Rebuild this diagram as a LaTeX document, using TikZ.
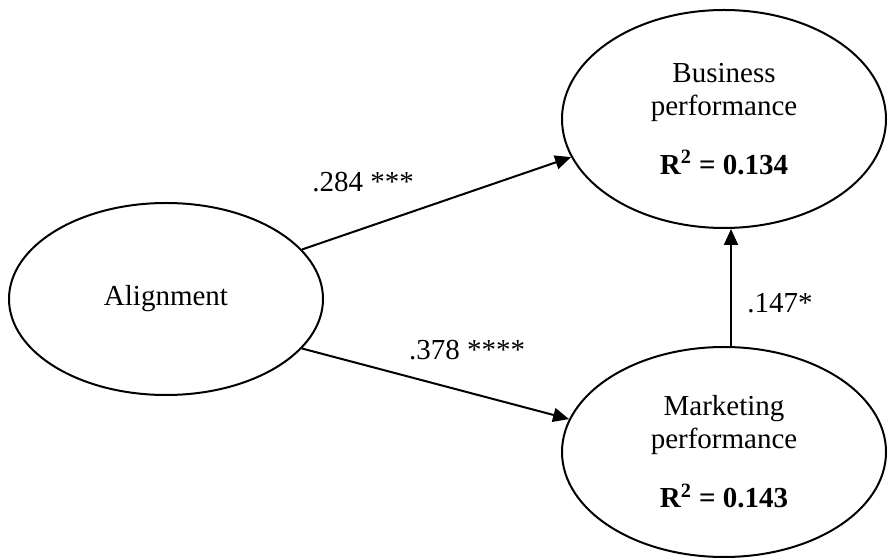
\documentclass[tikz,border=0pt]{standalone}
\usepackage{fontspec}
\setmainfont{Liberation Serif}
\usetikzlibrary{arrows.meta,shapes.geometric}

\begin{document}
\begin{tikzpicture}[x=0.5pt,y=-0.5pt,font=\fontsize{14.5}{16.5}\selectfont]
    \useasboundingbox (0,0) rectangle (888,560);
    \begin{scope}[every node/.style={ellipse,draw,line width=1pt,align=center,inner sep=0pt}]
      \node[minimum width=157pt,minimum height=96pt] (alignment) at (166,299) {Alignment};
      \node[minimum width=162pt,minimum height=109pt] (business) at (724,119)
        {Business\\performance\\[13pt]\textbf{R\textsuperscript{2} = 0.134}};
      \node[minimum width=162pt,minimum height=105pt] (marketing) at (724,452)
        {Marketing\\performance\\[13pt]\textbf{R\textsuperscript{2} = 0.143}};
    \end{scope}

    \begin{scope}[>={Triangle[length=8pt,width=7pt]}, line width=1pt]
      \draw [->] (alignment.20) -- (business.194);
      \draw [->] (alignment.340) -- (marketing.168);
      \draw [->] ([xshift=3.5pt]marketing.north) -- ([xshift=3.5pt]business.south);
    \end{scope}

    \node (b1) at (363,182) {.284 ***};
    \node (b2) at (467,350) {.378 ****};
    \node (b3) at (780,303) {.147*};
  \end{tikzpicture}
\end{document}
